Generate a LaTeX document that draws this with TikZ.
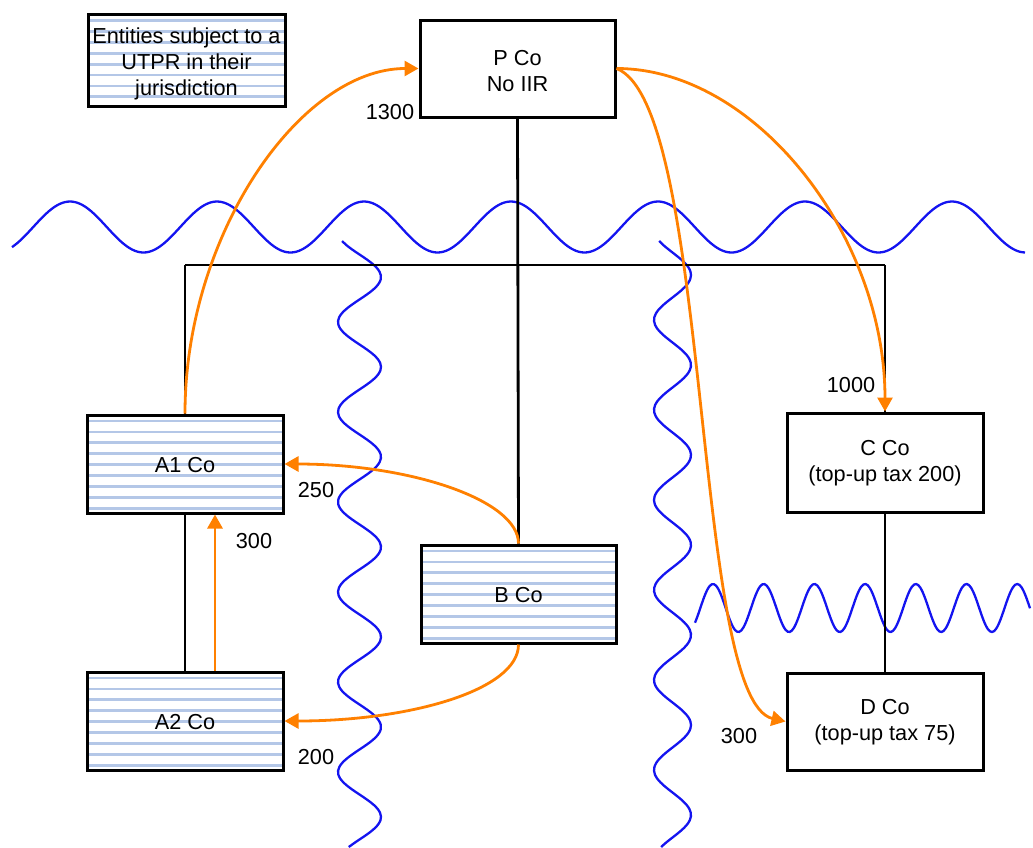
\documentclass[tikz,border=0pt]{standalone}
\usepackage{fontspec}
\setmainfont{Liberation Sans}
\usetikzlibrary{arrows.meta}
\definecolor{flow}{RGB}{255,128,0}
\definecolor{wavecol}{RGB}{20,20,240}
\definecolor{stripecol}{RGB}{180,199,231}
\tikzset{
  box/.style={draw=black, line width=3pt, fill=white, minimum width=196pt, minimum height=98pt,
    inner sep=0pt},
  striped/.style={box, path picture={
    \foreach \k in {0,...,9} {
      \draw[stripecol, line width=2.8pt] ([yshift={-6pt-\k*10.9pt}]path picture bounding box.north west) -- ++(220pt,0);
    }}},
  link/.style={draw=black, line width=2.8pt},
  flowarrow/.style={draw=flow, line width=2.8pt, -{Triangle[length=14pt,width=15pt]}},
  wave/.style={draw=wavecol, line width=2.3pt},
  lbl/.style={inner sep=0pt, align=center, font=\fontsize{21.7}{26}\selectfont}
}
\begin{document}
\begin{tikzpicture}[x=1pt,y=-1pt]
\useasboundingbox (0,0) rectangle (1033,847);

% waves
\draw[wave] plot[domain=12:1025, samples=220, smooth] (\x, {227 - 25.5*cos((\x-70)*2.449)});
\draw[wave] plot[domain=241:847, samples=160, smooth] ({359.5 - 21.5*cos((\x-232)*4)}, \x);
\draw[wave] plot[domain=241:847, samples=160, smooth] ({672.5 - 18.5*cos((\x-230)*4)}, \x);
\draw[wave] plot[domain=695:1030, samples=160, smooth] (\x, {608 - 24*cos((\x-713)*7.1)});

% boxes
\node[striped, minimum width=197pt, minimum height=92pt] (legend) at (186.5,60.5) {};
\node[box, minimum width=195pt, minimum height=97pt] (P) at (517.5,68.5) {};
\node[striped] (A1) at (185,464) {};
\node[striped] (A2) at (185,721) {};
\node[striped, minimum width=195pt] (B) at (518.5,594) {};
\node[box, minimum height=99pt] (C) at (885,462.5) {};
\node[box, minimum height=97pt] (D) at (885,721.5) {};

% box texts
\node[lbl] (legendtext) at ([yshift=-3pt]legend.center) {Entities subject to a\\UTPR in their\\jurisdiction};
\node[lbl] (Ptext) at ([yshift=-3pt]P.center) {P Co\\No IIR};
\node[lbl] (A1text) at ([yshift=-1pt]A1.center) {A1 Co};
\node[lbl] (A2text) at ([yshift=-1pt]A2.center) {A2 Co};
\node[lbl] (Btext) at ([yshift=-1pt]B.center) {B Co};
\node[lbl] (Ctext) at ([yshift=-1pt]C.center) {C Co\\(top-up tax 200)};
\node[lbl] (Dtext) at ([yshift=-1pt]D.center) {D Co\\(top-up tax 75)};

% ownership lines
\coordinate (jl) at (185,265);
\coordinate (jr) at (885,265);
\draw[link] (jl) -- (jr);
\draw[link] (jl) -- (A1.north);
\draw[link] (jr) -- (C.north);
\draw[link] (P.south) -- (B.north);
\draw[link] (A1.south) -- (A2.north);
\draw[link] (C.south) -- (D.north);

% flows
\draw[flowarrow] (A1.north) .. controls (185,235) and (300,68.5) .. (P.west);
\draw[flowarrow] (P.east) .. controls (755,68.5) and (885,235) .. (C.north);
\draw[flowarrow] (P.east) .. controls (712,105) and (692,700) .. (D.west);
\draw[flowarrow] (B.north) .. controls (518.5,500) and (410,464) .. (A1.east);
\draw[flowarrow] (B.south) .. controls (518.5,690) and (410,721) .. (A2.east);
\draw[flowarrow] ([xshift=30pt]A2.north) -- ([xshift=30pt]A1.south);

% labels
\node[lbl] (l1300) at (390,112) {1300};
\node[lbl] (l1000) at (851,385) {1000};
\node[lbl] (l300d) at (739,736) {300};
\node[lbl] (l250) at (316,490) {250};
\node[lbl] (l300a) at (254,541) {300};
\node[lbl] (l200) at (316,757) {200};
\end{tikzpicture}
\end{document}
